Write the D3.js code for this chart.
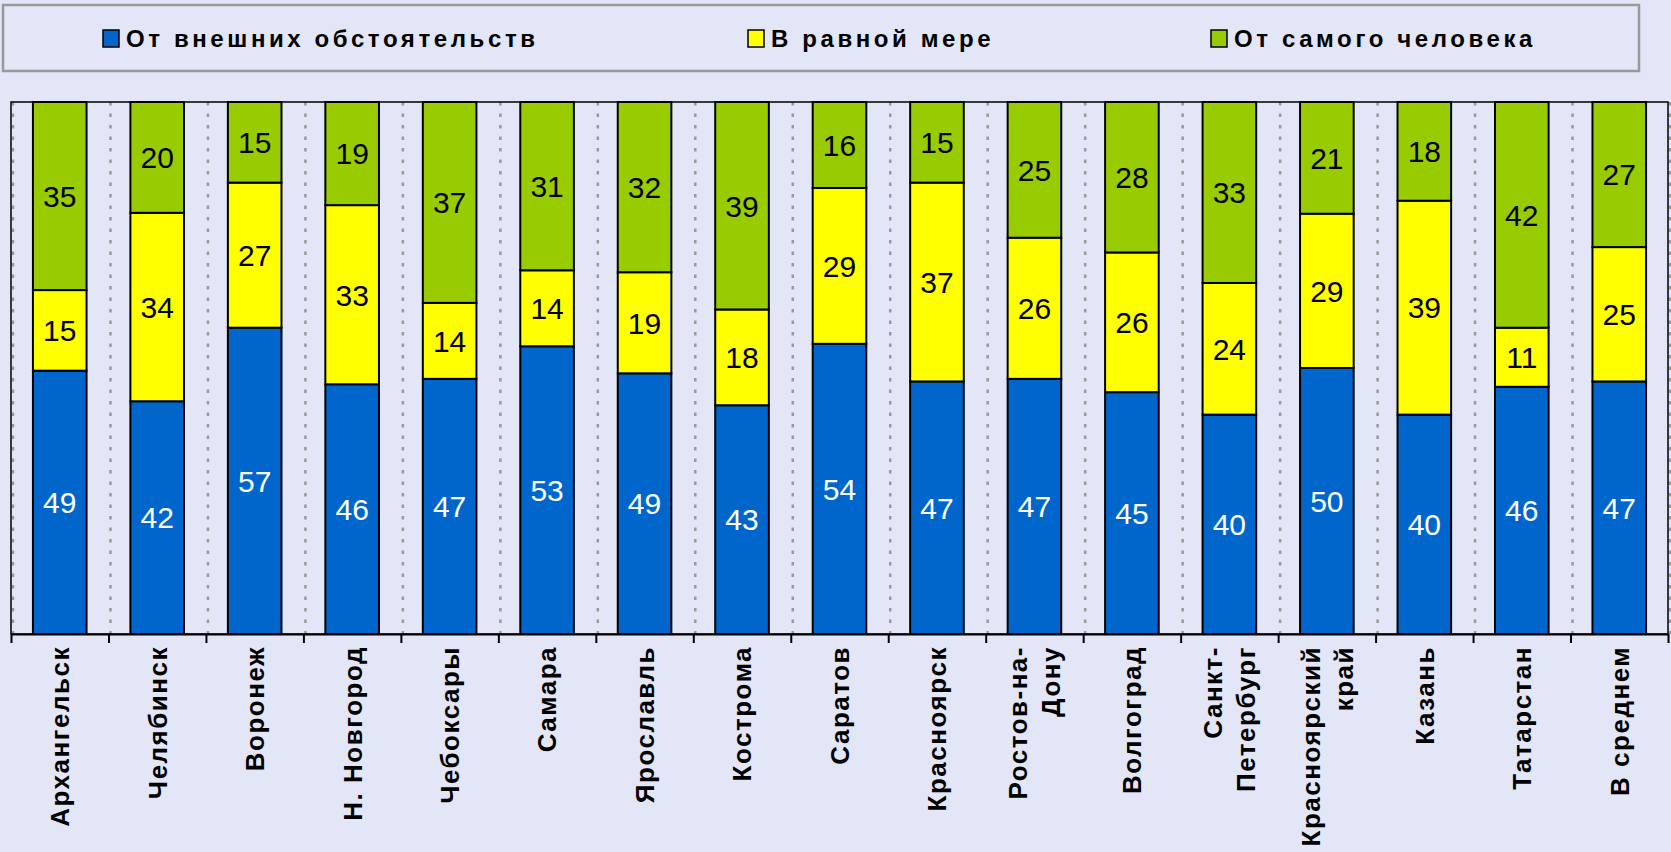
<!DOCTYPE html>
<html>
<head>
<meta charset="utf-8">
<script src="https://cdn.jsdelivr.net/npm/d3@7"></script>
<style>
  html, body { margin: 0; padding: 0; background: #e3e6f7; }
  svg { display: block; }
  text { font-family: Arial, "Liberation Sans", sans-serif; }
</style>
</head>
<body>
<div id="chart"></div>
<script>
var categories = ['Архангельск', 'Челябинск', 'Воронеж', 'Н. Новгород', 'Чебоксары', 'Самара',
  'Ярославль', 'Кострома', 'Саратов', 'Красноярск', 'Ростов-на-\nДону', 'Волгоград',
  'Санкт-\nПетербург', 'Красноярский\nкрай', 'Казань', 'Татарстан', 'В среднем'];
var series_names = ['От внешних обстоятельств', 'В равной мере', 'От самого человека'];
var external = [49, 42, 57, 46, 47, 53, 49, 43, 54, 47, 47, 45, 40, 50, 40, 46, 47];
var equal = [15, 34, 27, 33, 14, 14, 19, 18, 29, 37, 26, 26, 24, 29, 39, 11, 25];
var self = [35, 20, 15, 19, 37, 31, 32, 39, 16, 15, 25, 28, 33, 21, 18, 42, 27];

var colors = ['#0066cc', '#ffff00', '#99cc00'];
var label_colors = ['#ffffff', '#000000', '#000000'];

var chart_width = 1671;
var chart_height = 852;
var plot = { left: 11, top: 102, right: 1668, bottom: 634 };

var rows = categories.map(function(c, i) {
  return { cat: c, s0: external[i], s1: equal[i], s2: self[i] };
});

var svg = d3.select('#chart')
  .append('svg')
  .attr('width', chart_width)
  .attr('height', chart_height);

// background
svg.append('rect')
  .attr('width', chart_width)
  .attr('height', chart_height)
  .attr('fill', '#e3e6f7');

// scales
var x_scale = d3.scaleBand()
  .domain(categories)
  .range([plot.left, plot.right])
  .paddingInner(0.45)
  .paddingOuter(0.225);

var x_bound = d3.scaleLinear()
  .domain([0, categories.length])
  .range([plot.left, plot.right]);

var y_scale = d3.scaleLinear()
  .domain([0, 1])
  .range([plot.bottom, plot.top]);

// dotted gridlines between categories
svg.append('g')
  .selectAll('line')
  .data(d3.range(categories.length + 1))
  .enter()
  .append('line')
  .attr('x1', (d) => x_bound(d) + 2)
  .attr('x2', (d) => x_bound(d) + 2)
  .attr('y1', plot.top)
  .attr('y2', plot.bottom)
  .attr('stroke', '#999')
  .attr('stroke-width', 2.5)
  .attr('stroke-dasharray', '3.5 8');

// stacked bars (100%)
var stack = d3.stack()
  .keys(['s0', 's1', 's2'])
  .offset(d3.stackOffsetExpand);
var layers = stack(rows);

var layer_g = svg.selectAll('.layer')
  .data(layers)
  .enter()
  .append('g')
  .attr('class', 'layer')
  .attr('fill', (d, i) => colors[i]);

layer_g.selectAll('rect')
  .data((d) => d)
  .enter()
  .append('rect')
  .attr('x', (d) => x_scale(d.data.cat))
  .attr('y', (d) => y_scale(d[1]))
  .attr('width', x_scale.bandwidth())
  .attr('height', (d) => y_scale(d[0]) - y_scale(d[1]))
  .attr('stroke', '#000')
  .attr('stroke-width', 2);

// value labels
layers.forEach(function(layer, li) {
  svg.append('g')
    .selectAll('text')
    .data(layer)
    .enter()
    .append('text')
    .attr('x', (d) => x_scale(d.data.cat) + x_scale.bandwidth() / 2)
    .attr('y', (d) => (y_scale(d[0]) + y_scale(d[1])) / 2)
    .attr('dy', '0.36em')
    .attr('text-anchor', 'middle')
    .attr('font-size', 30)
    .attr('fill', label_colors[li])
    .text((d) => d.data[layer.key]);
});

// plot frame
svg.append('rect')
  .attr('x', plot.left)
  .attr('y', plot.top)
  .attr('width', plot.right - plot.left)
  .attr('height', plot.bottom - plot.top)
  .attr('fill', 'none')
  .attr('stroke', '#000')
  .attr('stroke-width', 1.5);

// bottom axis with ticks at category boundaries
var x_axis = d3.axisBottom(x_bound)
  .tickValues(d3.range(categories.length + 1))
  .tickFormat('')
  .tickSizeInner(9)
  .tickSizeOuter(0);

svg.append('g')
  .attr('class', 'axis')
  .attr('transform', 'translate(0,' + plot.bottom + ')')
  .call(x_axis)
  .call((g) => g.selectAll('path, line').attr('stroke', '#000').attr('stroke-width', 2));

// category labels, rotated
var cat_g = svg.append('g')
  .selectAll('text')
  .data(categories)
  .enter()
  .append('text')
  .attr('transform', (d) => 'translate(' + (x_scale(d) + x_scale.bandwidth() / 2) + ',' + (plot.bottom + 12) + ') rotate(-90)')
  .attr('text-anchor', 'end')
  .attr('font-size', 26)
  .attr('font-weight', 'bold')
  .attr('letter-spacing', 1.5)
  .attr('fill', '#000');

cat_g.each(function(d) {
  var lines = d.split('\n');
  var t = d3.select(this);
  lines.forEach(function(line, i) {
    t.append('tspan')
      .attr('x', 0)
      .attr('y', (i - (lines.length - 1) / 2) * 33)
      .attr('dy', '0.36em')
      .text(line);
  });
});

// legend
svg.append('rect')
  .attr('x', 3)
  .attr('y', 5)
  .attr('width', 1636)
  .attr('height', 66)
  .attr('fill', 'none')
  .attr('stroke', '#999')
  .attr('stroke-width', 2.5);

var legend_x = [103, 748, 1211];
var legend = svg.selectAll('.legend')
  .data(series_names)
  .enter()
  .append('g')
  .attr('class', 'legend')
  .attr('transform', (d, i) => 'translate(' + legend_x[i] + ',30)');

legend.append('rect')
  .attr('width', 16)
  .attr('height', 17)
  .attr('fill', (d, i) => colors[i])
  .attr('stroke', '#000')
  .attr('stroke-width', 1.5);

legend.append('text')
  .attr('x', 23)
  .attr('y', 17)
  .attr('font-size', 24)
  .attr('font-weight', 'bold')
  .attr('letter-spacing', 3.6)
  .attr('fill', '#000')
  .text((d) => d);
</script>
</body>
</html>
